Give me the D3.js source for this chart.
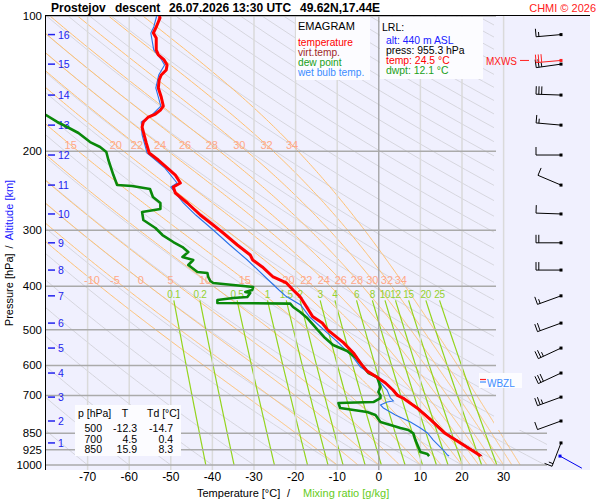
<!DOCTYPE html>
<html><head><meta charset="utf-8">
<script src="https://cdn.jsdelivr.net/npm/d3@7"></script>
<style>
body{margin:0;background:#fff;}
svg{display:block;font-family:"Liberation Sans",Arial,sans-serif;}
</style></head><body>
<svg id="c" width="600" height="500"></svg>
<script>
// ---------------- DATA ----------------
const pressureTicks = [100,200,300,400,500,600,700,850,925,1000];
const tempTicks = [-70,-60,-50,-40,-30,-20,-10,0,10,20,30];
const thetaWLabels = [-10,-5,0,5,10,15,20,22,24,26,28,30,32,34];
const mixRatios = [0.1,0.2,0.5,1,1.5,2,3,4,6,8,10,12,15,20,25];
const dryThetaC = d3.range(-80, 330, 10);

const altKm = [1,2,3,4,5,6,7,8,9,10,11,12,13,14,15,16];
const altP  = [893,798,706,624,549,483,420,368,320,276,238,204,175,150,128,110];
const windDir = [201,250,250,245,245,250,250,270,270,272,293,270,275,272,262,265];
const windSpd = [15,10,25,30,25,20,15,20,20,10,10,10,15,30,25,15];
const mxwsP = 125.6, mxwsDir = 265, mxwsSpd = 30;
const sfcP = 955.3, sfcDir = 119, sfcSpd = 2;

const tempP = [100,101,105.8,109.1,111.9,119,122.1,125.3,128.6,131.9,135.3,138.8,144.7,151.5,158.7,162,165.3,167.9,172.2,176.7,184.1,191.8,198.8,201.9,209.3,218.1,226.1,235.5,240.4,247.9,260.9,277.5,292.1,304.3,323.6,340.7,349.5,362.2,381.3,393.2,407.6,421,443.8,467,482.8,500,534,563,593,618,636.8,656.7,680.8,700,709.3,746.5,793.9,850,893.2,940.2,955.3];
const tempT = [-52.8,-52.6,-53.5,-54.2,-53.5,-53.5,-53.0,-51.6,-50.9,-51.1,-52.3,-52.8,-53.0,-52.3,-51.8,-52.5,-53.7,-55.4,-56.6,-56.9,-56.4,-55.9,-55.4,-55.2,-53.0,-50.8,-48.9,-47.7,-49.4,-48.9,-46.0,-42.9,-39.8,-37.4,-34.0,-30.9,-30.3,-28.0,-25.4,-22.2,-20.6,-19.0,-17.4,-15.9,-13.6,-12.3,-8.5,-6.1,-4.4,-2.8,-0.5,1.6,3.4,4.5,5.8,9.2,12.5,15.9,19.6,23.4,24.5];

const virtP = [500,534,563,593,618,636.8,656.7,680.8,700,709.3,746.5,793.9,850,893.2,940.2,955.3];
const virtT = [-12.2,-8.4,-5.9,-4.2,-2.6,-0.3,1.8,3.7,4.8,6.1,9.5,12.9,16.3,20.0,23.8,24.9];

const dewP = [163,166.2,172.2,176.7,182.2,190.9,195.8,200.9,209.3,226.1,237.9,239.1,242.8,253.0,260.9,269.1,273.3,284.7,296.6,307.5,318.7,327.0,335.5,344.2,349.5,358.6,371.7,373.6,381.3,389.2,393.2,397.2,401.3,407.6,411.8,413.9,422.5,424.7,429.1,435.8,437.0,444.8,456.4,470.6,487.9,500,521.4,540.4,557.3,576,604.9,623.9,636.8,670.6,688.0,700,709.3,724.0,727.7,746.5,762.1,773.9,802.2,827.3,835.8,850,879.8,912.0,935.8,945.5,955.3];
const dewT = [-82,-80.0,-77.3,-74.9,-72.2,-69.4,-67.0,-65.5,-65.0,-63.8,-62.9,-59.3,-55.0,-54.3,-52.5,-52.5,-56.9,-56.6,-53.7,-52.0,-49.4,-47.2,-45.8,-47.2,-44.6,-45.8,-43.6,-41.2,-41.0,-40.5,-39.8,-35.0,-30.2,-30.4,-32.1,-30.9,-31.6,-35.0,-38.8,-38.8,-21.3,-20.6,-18.9,-17.2,-15.7,-14.7,-12.9,-11.0,-7.6,-5.6,-3.7,-2.5,-0.4,0.4,-0.1,0.4,0.4,-1.3,-9.7,-9.3,-2.8,-0.8,0.4,5.2,7.1,8.3,8.8,9.5,10.0,11.7,12.1];

const wbP = [100,105.8,109.1,119,125.3,128.6,135.3,144.7,158.7,165.3,172.2,184.1,201.9,218.1,235.5,240.4,260.9,277.5,292.1,304.3,323.6,349.5,381.3,407.6,421,440.2,468.2,500,533,574.9,604.9,636.8,680.8,709.3,720,724,735,746.5,773.9,802.2,827.3,848.5,879.8,926,950,955.3];
const wbT = [-53.4,-54.1,-54.8,-54.1,-52.2,-51.5,-52.9,-53.6,-52.4,-54.3,-57.1,-56.9,-55.7,-51.4,-48.5,-50.0,-47.0,-44.0,-41.2,-39.0,-35.8,-31.6,-27.3,-24.0,-22.3,-18.8,-16.6,-13.2,-9.8,-6.2,-4.4,-0.8,2.0,2.8,3.5,2.0,0.4,1.1,4.0,7.6,10.0,11.7,13.1,15.5,16.5,16.9];

const lrlLines = [["alt: 440 m ASL","#2020ff"],["press: 955.3 hPa","#000"],["temp: 24.5 °C","#ff0000"],["dwpt: 12.1 °C","#20a020"]];
const legendItems = [["temperature","#ff0000"],["virt.temp.","#a02828"],["dew point","#20a020"],["wet bulb temp.","#3c8cff"]];
const tableP  = ["500","700","850"];
const tableT  = ["-12.3","4.5","15.9"];
const tableTd = ["-14.7","0.4","8.3"];

// ---------------- SCALES ----------------
const x = d3.scaleLinear().domain([-80,30]).range([46,503.6]);
const y = d3.scaleLog().domain([100,1000]).range([16,465]);
const svg = d3.select("#c");

// thermodynamics for background lines
function es(Tc){return 6.112*Math.exp(17.67*Tc/(Tc+243.5));}
function mixT(w,p){const e=w*p/(622+w);const l=Math.log(e/6.112);return 243.5*l/(17.67-l);}
function moist(p,T){const Rd=287.04,cp=1005.7,Lv=2.501e6,eps=0.622;const e=es(T-273.15);const ws=eps*e/(p-e);
  return (Rd*T+Lv*ws)/(p*(cp+Lv*Lv*ws*eps/(Rd*T*T)));}
function pseudo(thw){const pts=[];let T=thw+273.15;let p=1000;pts.push([p,T-273.15]);
  const dp=-2;while(p>100){const k1=moist(p,T);const k2=moist(p+dp/2,T+k1*dp/2);T+=k2*dp;p+=dp;pts.push([p,T-273.15]);}
  return pts;}

// defs / clip
const defs = svg.append("defs");
defs.append("clipPath").attr("id","gc").append("polygon")
  .attr("points","46,16 494,16 494,430 547,430 547,470 46,470");
defs.append("clipPath").attr("id","pc").append("rect").attr("x",46).attr("y",16).attr("width",460).attr("height",454);

// background
svg.append("rect").attr("x",46).attr("y",16).attr("width",544).attr("height",454).attr("fill","#f0f0fe");

const line = d3.line().x(d=>x(d[1])).y(d=>y(d[0]));
const grid = svg.append("g").attr("clip-path","url(#gc)");

// dry adiabats
dryThetaC.forEach(th=>{
  const pts = d3.range(100,1001,10).map(p=>[p,(th+273.15)*Math.pow(p/1000,0.2857)-273.15]);
  grid.append("path").attr("d",line(pts)).attr("fill","none").attr("stroke","#d6d6de").attr("stroke-width",1);
});
// pseudo adiabats
const pseudoLines = thetaWLabels.map(t=>({t,pts:pseudo(t)}));
pseudoLines.forEach(o=>{
  grid.append("path").attr("d",line(o.pts)).attr("fill","none").attr("stroke","#ffc070").attr("stroke-width",1);
});
// mixing ratio lines
mixRatios.forEach(w=>{
  const pts = d3.range(430,1001,10).map(p=>[p,mixT(w,p)]);
  grid.append("path").attr("d",line(pts)).attr("fill","none").attr("stroke","#94d41e").attr("stroke-width",1.2);
});

// isotherms
tempTicks.forEach(t=>{
  svg.append("line").attr("x1",x(t)).attr("x2",x(t)).attr("y1",16).attr("y2",470)
    .attr("stroke",t===0?"#999":"#dadada").attr("stroke-width",t===0?1.2:1.5);
});
// isobars
pressureTicks.forEach(p=>{
  svg.append("line").attr("x1",46).attr("x2",p>=850?547:496).attr("y1",y(p)).attr("y2",y(p))
    .attr("stroke","#aaa").attr("stroke-width",1.5);
});

// pseudo-adiabat labels
function xAtY(pts,yy){const pp=y.invert(yy);for(let i=1;i<pts.length;i++){const a=pts[i-1],b=pts[i];
  if((a[0]-pp)*(b[0]-pp)<=0){const f=(pp-a[0])/(b[0]-a[0]);return x(a[1]+f*(b[1]-a[1]));}}return null;}
[[145,true],[280,false]].forEach(([yy,row1])=>{
  pseudoLines.forEach(o=>{
    const xx = xAtY(o.pts,yy);
    if(xx===null||xx<62||xx>496) return;
    svg.append("text").attr("x",xx).attr("y",yy+4).attr("text-anchor","middle")
      .attr("font-size",11).attr("fill","#ffa888").text(o.t);
  });
});
// mixing ratio labels
mixRatios.forEach(w=>{
  svg.append("text").attr("x",x(mixT(w,430))).attr("y",298).attr("text-anchor","middle")
    .attr("font-size",10).attr("letter-spacing",-0.3).attr("fill","#94d030").text(w);
});

// frame
svg.append("line").attr("x1",45.5).attr("x2",45.5).attr("y1",15).attr("y2",470).attr("stroke","#000");
svg.append("line").attr("x1",45).attr("x2",590).attr("y1",15.5).attr("y2",15.5).attr("stroke","#000");

// pressure labels
pressureTicks.forEach(p=>{
  svg.append("text").attr("x",42).attr("y",y(p)+4).attr("text-anchor","end").attr("font-size",11.5).attr("fill","#000").text(p);
});
// temperature labels
tempTicks.forEach(t=>{
  svg.append("text").attr("x",x(t)).attr("y",481).attr("text-anchor","middle").attr("font-size",12).attr("fill","#000").text(t);
});
// altitude ticks
altKm.forEach((k,i)=>{
  const yy=y(altP[i]);
  svg.append("line").attr("x1",48).attr("x2",55).attr("y1",yy).attr("y2",yy).attr("stroke","#2222ee").attr("stroke-width",1.5);
  svg.append("text").attr("x",58).attr("y",yy+4).attr("font-size",10.5).attr("fill","#2222ee").text(k);
});

// boxes
svg.append("rect").attr("x",296).attr("y",17).attr("width",74).attr("height",63).attr("fill","#fcfcff");
svg.append("rect").attr("x",380).attr("y",17).attr("width",103).attr("height",62).attr("fill","#fcfcff");
svg.append("rect").attr("x",75).attr("y",405).attr("width",106).attr("height",51).attr("fill","#fcfcff");
svg.append("rect").attr("x",479).attr("y",373).attr("width",43).attr("height",15).attr("fill","#fcfcff");

// legend
svg.append("text").attr("x",298).attr("y",30).attr("font-size",11).attr("fill","#000").text("EMAGRAM");
legendItems.forEach((d,i)=>{
  svg.append("text").attr("x",298).attr("y",45.5+10*i).attr("font-size",10.2).attr("fill",d[1]).text(d[0]);
});
svg.append("text").attr("x",382).attr("y",30.5).attr("font-size",10.5).attr("fill","#000").text("LRL:");
lrlLines.forEach((d,i)=>{
  svg.append("text").attr("x",386).attr("y",44+10*i).attr("font-size",10.4).attr("fill",d[1]).text(d[0]);
});
// table
svg.append("text").attr("x",78).attr("y",417).attr("font-size",10.5).text("p [hPa]");
svg.append("text").attr("x",125).attr("y",417).attr("font-size",10.5).attr("text-anchor","middle").text("T");
svg.append("text").attr("x",147).attr("y",417).attr("font-size",10.5).text("Td [°C]");
tableP.forEach((p,i)=>{
  const yy=432+10.5*i;
  svg.append("text").attr("x",102).attr("y",yy).attr("font-size",10.5).attr("text-anchor","end").text(p);
  svg.append("text").attr("x",137).attr("y",yy).attr("font-size",10.5).attr("text-anchor","end").text(tableT[i]);
  svg.append("text").attr("x",173).attr("y",yy).attr("font-size",10.5).attr("text-anchor","end").text(tableTd[i]);
});
// WBZL
svg.append("line").attr("x1",480).attr("x2",486).attr("y1",379.5).attr("y2",379.5).attr("stroke","#ff2020").attr("stroke-width",1.2);
svg.append("line").attr("x1",480).attr("x2",486).attr("y1",382).attr("y2",382).attr("stroke","#3c8cff").attr("stroke-width",1.2);
svg.append("text").attr("x",487).attr("y",387).attr("font-size",10).attr("fill","#3c8cff").text("WBZL");

// profiles
const prof = svg.append("g").attr("clip-path","url(#pc)");
prof.append("path").attr("d",line(d3.zip(wbP,wbT))).attr("fill","none").attr("stroke","#2a72e8").attr("stroke-width",1.1);
prof.append("path").attr("d",line(d3.zip(dewP,dewT))).attr("fill","none").attr("stroke","#0a880a").attr("stroke-width",2.6).attr("stroke-linejoin","round");
prof.append("path").attr("d",line(d3.zip(virtP,virtT))).attr("fill","none").attr("stroke","#a02828").attr("stroke-width",1);
prof.append("path").attr("d",line(d3.zip(tempP,tempT))).attr("fill","none").attr("stroke","#ff0000").attr("stroke-width",3).attr("stroke-linejoin","round");

// wind barbs
function barb(cx,cy,dir,spd,color){
  const g=svg.append("g");
  const L=25, r=dir*Math.PI/180, sx=Math.sin(r), sy=-Math.cos(r);
  const tx=cx+sx*L, ty=cy+sy*L, fx=-sy, fy=sx;
  g.append("line").attr("x1",cx).attr("y1",cy).attr("x2",tx).attr("y2",ty).attr("stroke",color).attr("stroke-width",1);
  let n10=Math.floor(spd/10), n5=Math.floor((spd-10*n10)/5), pos=0; const step=2.8;
  for(let i=0;i<n10;i++){const bx=tx-sx*pos,by=ty-sy*pos;
    g.append("line").attr("x1",bx).attr("y1",by).attr("x2",bx+fx*8).attr("y2",by+fy*8).attr("stroke",color);pos+=step;}
  if(n5){if(pos===0)pos=step;const bx=tx-sx*pos,by=ty-sy*pos;
    g.append("line").attr("x1",bx).attr("y1",by).attr("x2",bx+fx*4.5).attr("y2",by+fy*4.5).attr("stroke",color);}
  g.append("rect").attr("x",cx-1.5).attr("y",cy-1.5).attr("width",3).attr("height",3).attr("fill",color);
}
const bx = 561;
altKm.forEach((k,i)=>barb(bx,y(altP[i]),windDir[i],windSpd[i],"#000"));
barb(bx,y(mxwsP),mxwsDir,mxwsSpd,"#ff2020");
barb(bx-1,y(sfcP),sfcDir,sfcSpd,"#0000ee");
svg.append("text").attr("x",517).attr("y",64.5).attr("text-anchor","end").attr("font-size",10).attr("fill","#ff2020").text("MXWS");
svg.append("line").attr("x1",520).attr("x2",529).attr("y1",y(mxwsP)).attr("y2",y(mxwsP)).attr("stroke","#ff2020");

// titles
const title = [["Prostejov",51],["descent",115],["26.07.2026 13:30 UTC",169],["49.62N,17.44E",300]];
title.forEach(d=>svg.append("text").attr("x",d[1]).attr("y",12).attr("font-size",12).attr("font-weight","bold").text(d[0]));
svg.append("text").attr("x",596).attr("y",12).attr("text-anchor","end").attr("font-size",11).attr("fill","#ff2020").text("CHMI © 2026");
svg.append("text").attr("x",197).attr("y",497).attr("font-size",11).text("Temperature [°C]");
svg.append("text").attr("x",287).attr("y",497).attr("font-size",11).text("/");
svg.append("text").attr("x",303).attr("y",497).attr("font-size",11).attr("fill","#66cc22").text("Mixing ratio [g/kg]");
const yl = svg.append("text").attr("transform","translate(13,253) rotate(-90)").attr("text-anchor","middle").attr("font-size",11);
yl.append("tspan").attr("fill","#000").text("Pressure [hPa]");
yl.append("tspan").attr("fill","#000").attr("dx",5).text("/");
yl.append("tspan").attr("fill","#2020ff").attr("dx",5).text("Altitude [km]");
</script>
</body></html>
